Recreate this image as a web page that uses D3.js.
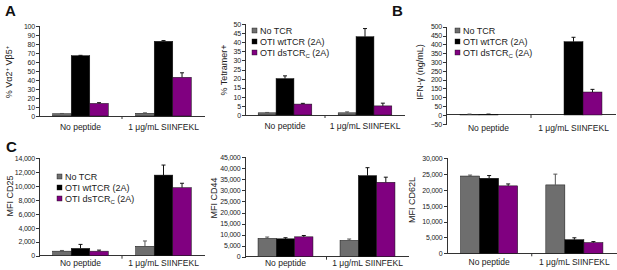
<!DOCTYPE html>
<html lang="en">
<head>
<meta charset="UTF-8">
<script src="https://d3js.org/d3.v7.min.js"></script>
<style>
  body { margin: 0; background: #fff; }
  svg { font-family: "Liberation Sans", Arial, sans-serif; }
  .tick text { font-size: 7px; letter-spacing: -0.2px; fill: #222; }
  .axis path, .axis line { stroke: #333; stroke-width: 1; shape-rendering: crispEdges; }
  .cat { font-size: 8.5px; fill: #222; text-anchor: middle; }
  .ytitle { font-size: 9px; fill: #222; text-anchor: middle; }
  .legend text { font-size: 9px; fill: #222; }
  .letter { font-size: 15px; font-weight: bold; fill: #111; }
</style>
</head>
<body>
<svg class="chart" width="617" height="270"></svg>
<script>

// categories and series
const groups = ["No peptide", "1 \u03bcg/mL SIINFEKL"];
const series = ["No TCR", "OTI wtTCR (2A)", "OTI dsTCR"];
const colors = ["#6e6e6e", "#000000", "#800080"];

// values per group: [No TCR, wtTCR, dsTCRc]
const vaVbVals = [[2.5, 67, 14], [3, 83, 43]];
const vaVbErr  = [[0.3, 0.4, 0.8], [0.5, 0.8, 5]];
const tetVals  = [[1.2, 20, 6], [1.2, 43, 5]];
const tetErr   = [[0.2, 1.5, 0.4], [0.5, 4.5, 1.5]];
const ifnVals  = [[4, 4, 0], [0, 415, 130]];
const ifnErr   = [[1, 1, 0], [0, 25, 15]];
const cd25Vals = [[650, 1050, 650], [1350, 11550, 9750]];
const cd25Err  = [[100, 570, 150], [760, 1440, 630]];
const cd44Vals = [[8300, 8100, 9000], [7400, 36700, 33700]];
const cd44Err  = [[600, 500, 600], [600, 3600, 2300]];
const cd62Vals = [[24400, 23700, 21300], [21600, 4300, 3400]];
const cd62Err  = [[300, 850, 600], [3400, 600, 300]];

// y tick labels
const vaVbTicks = d3.range(0, 101, 10);
const tetTicks  = d3.range(0, 51, 5);
const ifnTicks  = d3.range(-50, 501, 50);
const cd25Ticks = d3.range(0, 14001, 2000);
const cd44Ticks = d3.range(0, 45001, 5000);
const cd62Ticks = d3.range(0, 30001, 5000);

const svg = d3.select(".chart");

const panels = [
  {vals: vaVbVals, err: vaVbErr, ticks: vaVbTicks, dom: [0, 100], xr: [39, 205], yr: [116, 26],
   title: "vavb", tx: 12, ty: 72, catY: 130},
  {vals: tetVals, err: tetErr, ticks: tetTicks, dom: [0, 50], xr: [245, 405], yr: [115, 24],
   title: "% Tetramer+", tx: 227, ty: 70, catY: 129, legend: [252, 31]},
  {vals: ifnVals, err: ifnErr, ticks: ifnTicks, dom: [-50, 500], xr: [446, 616], yr: [123.8, 26.7],
   title: "IFN-\u03b3 (ng/mL)", tx: 423, ty: 72, catY: 131, legend: [455, 31]},
  {vals: cd25Vals, err: cd25Err, ticks: cd25Ticks, dom: [0, 14000], xr: [39, 205], yr: [255.7, 158],
   title: "MFI CD25", tx: 13, ty: 196, catY: 266, legend: [57, 177], comma: true},
  {vals: cd44Vals, err: cd44Err, ticks: cd44Ticks, dom: [0, 45000], xr: [244.5, 408.5], yr: [256.7, 157.3],
   title: "MFI CD44", tx: 217, ty: 198, catY: 266, comma: true},
  {vals: cd62Vals, err: cd62Err, ticks: cd62Ticks, dom: [0, 30000], xr: [446.5, 617], yr: [253.3, 158.3],
   title: "MFI CD62L", tx: 415, ty: 200, catY: 265, comma: true},
];

panels.forEach(p => {
  let g = svg.append("g");

  let x = d3.scaleBand()
      .domain(groups)
      .range(p.xr)
      .paddingInner(0.33)
      .paddingOuter(0.165);

  let xs = d3.scaleBand()
      .domain(series)
      .range([0, x.bandwidth()]);

  let y = d3.scaleLinear()
      .domain(p.dom)
      .range(p.yr);

  let yAxis = d3.axisLeft(y)
      .tickValues(p.ticks)
      .tickSize(3)
      .tickPadding(1)
      .tickFormat(p.comma ? d3.format(",") : d3.format("d"));

  g.append("g")
      .attr("class", "axis")
      .attr("transform", `translate(${p.xr[0]},0)`)
      .call(yAxis);

  // x axis at zero
  let y0 = y(0);
  g.append("line")
      .attr("class", "axis")
      .attr("x1", p.xr[0]).attr("x2", p.xr[1])
      .attr("y1", y0).attr("y2", y0)
      .attr("stroke", "#333")
      .attr("shape-rendering", "crispEdges");
  g.append("line")
      .attr("x1", (p.xr[0] + p.xr[1]) / 2).attr("x2", (p.xr[0] + p.xr[1]) / 2)
      .attr("y1", y0).attr("y2", y0 + 3)
      .attr("stroke", "#333");

  // bars
  let grp = g.selectAll(".grp")
    .data(groups)
    .join("g")
      .attr("transform", d => `translate(${x(d)},0)`);

  grp.each(function(gname, gi) {
    let rows = series.map((s, si) => ({s: s, si: si, v: p.vals[gi][si], e: p.err[gi][si]}));
    let sel = d3.select(this);
    sel.selectAll("rect")
      .data(rows.filter(d => d.v !== 0))
      .join("rect")
        .attr("x", d => xs(d.s))
        .attr("y", d => Math.min(y(d.v), y0))
        .attr("width", xs.bandwidth())
        .attr("height", d => Math.abs(y0 - y(d.v)))
        .attr("fill", d => colors[d.si])
        .attr("stroke", "#111")
        .attr("stroke-width", 0.5);

    let eb = sel.selectAll(".err")
      .data(rows.filter(d => d.e > 0))
      .join("g")
        .attr("class", "err")
        .attr("stroke", d => d.si === 0 ? "#555" : "#111")
        .attr("stroke-width", 1);
    eb.append("line")
        .attr("x1", d => xs(d.s) + xs.bandwidth() / 2)
        .attr("x2", d => xs(d.s) + xs.bandwidth() / 2)
        .attr("y1", d => y(d.v))
        .attr("y2", d => y(d.v + d.e));
    eb.append("line")
        .attr("x1", d => xs(d.s) + xs.bandwidth() / 2 - 2)
        .attr("x2", d => xs(d.s) + xs.bandwidth() / 2 + 2)
        .attr("y1", d => y(d.v + d.e))
        .attr("y2", d => y(d.v + d.e));
  });

  // category labels
  g.selectAll(".cat")
    .data(groups)
    .join("text")
      .attr("class", "cat")
      .attr("x", d => x(d) + x.bandwidth() / 2)
      .attr("y", p.catY)
      .text(d => d);

  // y title
  let t = g.append("text")
      .attr("class", "ytitle")
      .attr("transform", `translate(${p.tx},${p.ty}) rotate(-90)`);
  if (p.title === "vavb") {
    t.append("tspan").text("% V\u03b12");
    t.append("tspan").attr("baseline-shift", "super").attr("font-size", "6px").text("+");
    t.append("tspan").text(" V\u03b25");
    t.append("tspan").attr("baseline-shift", "super").attr("font-size", "6px").text("+");
  } else {
    t.text(p.title);
  }

  // legend
  if (p.legend) {
    let lg = g.append("g")
        .attr("class", "legend")
        .attr("transform", `translate(${p.legend[0]},${p.legend[1]})`);
    let item = lg.selectAll("g")
      .data(series)
      .join("g")
        .attr("transform", (d, i) => `translate(0,${i * 11})`);
    item.append("rect")
        .attr("x", 0).attr("y", -3)
        .attr("width", 5).attr("height", 5)
        .attr("fill", (d, i) => colors[i])
        .attr("stroke", "#111")
        .attr("stroke-width", 0.4);
    let lt = item.append("text")
        .attr("x", 8)
        .attr("y", 3.2);
    lt.append("tspan").text(d => d);
    lt.filter((d, i) => i === 2).append("tspan")
        .attr("font-size", "6px").attr("dy", 2).text("C");
    lt.filter((d, i) => i === 2).append("tspan")
        .attr("dy", -2).text(" (2A)");
  }
});

// panel letters
svg.append("text").attr("class", "letter").attr("x", 5).attr("y", 16).text("A");
svg.append("text").attr("class", "letter").attr("x", 392).attr("y", 16).text("B");
svg.append("text").attr("class", "letter").attr("x", 6).attr("y", 152).text("C");

</script>
</body>
</html>
